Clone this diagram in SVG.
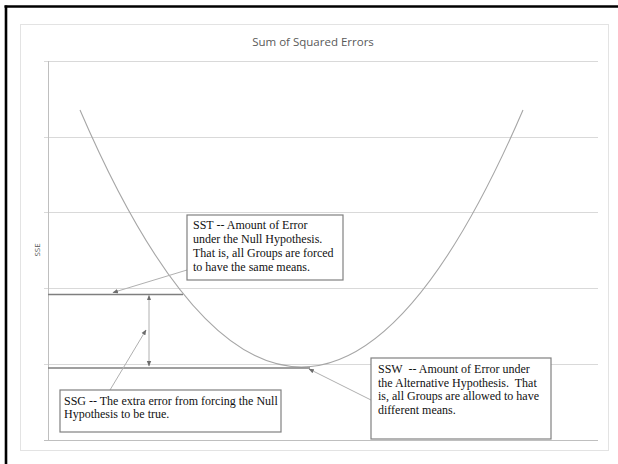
<svg xmlns="http://www.w3.org/2000/svg" width="618" height="464" viewBox="0 0 618 464">
<defs>
<style>
.grid{stroke:#d9d9d9;stroke-width:1;fill:none}
.axis{stroke:#bfbfbf;stroke-width:1;fill:none}
.curve{stroke:#a6a6a6;stroke-width:1.1;fill:none}
.level{stroke:#7f7f7f;stroke-width:1.6;fill:none}
.conn{stroke:#b0b0b0;stroke-width:1;fill:none}
.box{fill:#ffffff;stroke:#808080;stroke-width:1.2}
.lbl{font-family:"Liberation Serif","Times New Roman",serif;font-size:12px;fill:#111111;white-space:pre}
.title{font-family:"Open Sans","Liberation Sans",sans-serif;font-size:11.5px;fill:#595959}
.ax{font-family:"Open Sans","Liberation Sans",sans-serif;font-size:8px;fill:#595959}
</style>
<marker id="arr" viewBox="0 0 10 10" refX="9" refY="5" markerWidth="5.5" markerHeight="5.5" orient="auto-start-reverse" markerUnits="userSpaceOnUse">
<path d="M0,1 L10,5 L0,9 z" fill="#6d6d6d"/>
</marker>
</defs>
<rect x="0" y="0" width="618" height="464" fill="#ffffff"/>
<!-- outer frame -->
<line x1="4.5" y1="6.5" x2="618" y2="6.5" stroke="#000000" stroke-width="2.6"/>
<line x1="6" y1="5.5" x2="6" y2="464" stroke="#000000" stroke-width="2.6"/>
<!-- chart area -->
<rect x="20.5" y="24.5" width="588" height="426" fill="#ffffff" stroke="#e3e3e3" stroke-width="1"/>
<text class="title" x="313" y="46" text-anchor="middle">Sum of Squared Errors</text>
<text class="ax" transform="translate(40,250) rotate(-90)" text-anchor="middle">SSE</text>
<g id="gridlines">
<line class="grid" x1="44" y1="61.5" x2="598" y2="61.5"/>
<line class="grid" x1="44" y1="137.5" x2="598" y2="137.5"/>
<line class="grid" x1="44" y1="212.5" x2="598" y2="212.5"/>
<line class="grid" x1="44" y1="288.5" x2="598" y2="288.5"/>
<line class="grid" x1="44" y1="364.5" x2="598" y2="364.5"/>
<line class="axis" x1="44" y1="440.5" x2="598" y2="440.5"/>
<line class="axis" x1="48.5" y1="61" x2="48.5" y2="441"/>
</g>
<path id="curve" class="curve" d="M80,110 Q301.5,624 523,110"/>
<line class="level" x1="48" y1="294.5" x2="183" y2="294.5"/>
<line class="level" x1="48" y1="368" x2="310" y2="368"/>
<g id="connectors">
<line class="conn" x1="187" y1="270" x2="113" y2="292.5" marker-end="url(#arr)"/>
<line class="conn" x1="149" y1="295.5" x2="149" y2="366" marker-start="url(#arr)" marker-end="url(#arr)"/>
<line class="conn" x1="110" y1="390" x2="146" y2="330" marker-end="url(#arr)"/>
<line class="conn" x1="371" y1="400" x2="309" y2="369" marker-end="url(#arr)"/>
</g>
<g id="sst">
<rect class="box" x="187" y="215" width="156" height="65"/>
<text class="lbl" x="193" y="229">SST -- Amount of Error</text>
<text class="lbl" x="193" y="243">under the Null Hypothesis.</text>
<text class="lbl" x="193" y="257">That is, all Groups are forced</text>
<text class="lbl" x="193" y="271">to have the same means.</text>
</g>
<g id="ssg">
<rect class="box" x="60" y="390" width="221" height="42"/>
<text class="lbl" x="64" y="405">SSG -- The extra error from forcing the Null</text>
<text class="lbl" x="64" y="418">Hypothesis to be true.</text>
</g>
<g id="ssw">
<rect class="box" x="371" y="358" width="180" height="81"/>
<text class="lbl" x="378" y="373">SSW  -- Amount of Error under</text>
<text class="lbl" x="378" y="387">the Alternative Hypothesis.  That</text>
<text class="lbl" x="378" y="400">is, all Groups are allowed to have</text>
<text class="lbl" x="378" y="414">different means.</text>
</g>
</svg>
